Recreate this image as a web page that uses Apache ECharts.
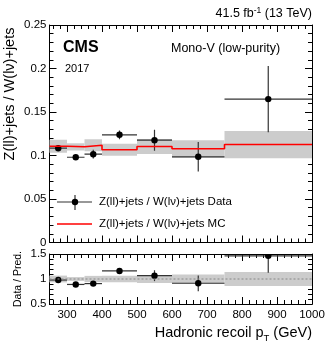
<!DOCTYPE html>
<html>
<head>
<meta charset="utf-8">
<script src="https://cdn.jsdelivr.net/npm/echarts@6/dist/echarts.min.js"></script>
<style>
html,body{margin:0;padding:0;background:#fff;}
#chart{width:332px;height:347px;}
</style>
</head>
<body>
<div id="chart"></div>
<script>
// bins of hadronic recoil (GeV)
var binLo = [250, 300, 350, 400, 500, 600, 750];
var binHi = [300, 350, 400, 500, 600, 750, 1000];
// Z(ll)/W(lv) ratio in data
var dataY   = [0.1084, 0.0980, 0.1015, 0.1238, 0.1176, 0.0985, 0.1648];
var dataErr = [0.0030, 0.0020, 0.0050, 0.0050, 0.0120, 0.0170, 0.0380];
// MC prediction and its uncertainty
var mcY   = [0.1107, 0.1100, 0.1118, 0.1066, 0.1103, 0.1077, 0.1126];
var mcErr = [0.0075, 0.0042, 0.0070, 0.0068, 0.0087, 0.0099, 0.0157];
// tick labels
var xMajor = [300, 400, 500, 600, 700, 800, 900, 1000];
var xMinor = [260, 280, 320, 340, 360, 380, 420, 440, 460, 480, 520, 540, 560, 580,
	620, 640, 660, 680, 720, 740, 760, 780, 820, 840, 860, 880, 920, 940, 960, 980];

var FONT = "'Liberation Sans', Arial, sans-serif";

var chart = echarts.init(document.getElementById('chart'));

// build the series data from the arrays
var upperPoints = [], upperBand = [], mcStep = [];
var ratioPoints = [], ratioBand = [];
for (var i = 0; i < binLo.length; i++) {
	upperPoints.push([binLo[i], binHi[i], dataY[i], dataErr[i]]);
	upperBand.push([binLo[i], binHi[i], mcY[i] - mcErr[i], mcY[i] + mcErr[i]]);
	mcStep.push([binLo[i], mcY[i]]);
	ratioPoints.push([binLo[i], binHi[i], dataY[i] / mcY[i], dataErr[i] / mcY[i]]);
	ratioBand.push([binLo[i], binHi[i], 1 - mcErr[i] / mcY[i], 1 + mcErr[i] / mcY[i]]);
}
mcStep.push([binHi[binHi.length - 1], mcY[mcY.length - 1]]);

function clampY(v, cs) {
	return Math.max(cs.y, Math.min(cs.y + cs.height, v));
}

function renderBand(params, api) {
	var p1 = api.coord([api.value(0), api.value(3)]);
	var p2 = api.coord([api.value(1), api.value(2)]);
	return {
		type: 'rect',
		shape: { x: p1[0], y: p1[1], width: p2[0] - p1[0], height: p2[1] - p1[1] },
		style: { fill: '#cccccc' }
	};
}

function renderPoint(params, api) {
	var cs = params.coordSys;
	var xl = api.value(0), xh = api.value(1), y = api.value(2), e = api.value(3);
	var xc = (xl + xh) / 2;
	var pc = api.coord([xc, y]);
	var pl = api.coord([xl, y]);
	var ph = api.coord([xh, y]);
	var pt = api.coord([xc, y + e]);
	var pb = api.coord([xc, y - e]);
	var lineStyle = { stroke: '#333', lineWidth: 1.2 };
	return {
		type: 'group',
		children: [
			{ type: 'line', shape: { x1: pl[0], y1: pl[1], x2: ph[0], y2: ph[1] }, style: lineStyle },
			{ type: 'line', shape: { x1: pc[0], y1: clampY(pt[1], cs), x2: pc[0], y2: clampY(pb[1], cs) }, style: lineStyle },
			{ type: 'circle', shape: { cx: pc[0], cy: pc[1], r: 3.2 }, style: { fill: '#000' } }
		]
	};
}

// x axes: major + minor ticks, bottom and top of each panel
function makeX(grid, pos, values, len, labels) {
	return {
		type: 'value', gridIndex: grid, position: pos, min: 250, max: 1000,
		axisLine: { show: true, onZero: false, lineStyle: { color: '#000', width: 1 } },
		axisTick: { show: true, inside: true, length: len, customValues: values, lineStyle: { color: '#000' } },
		axisLabel: { show: labels, customValues: xMajor, color: '#000', fontFamily: FONT, fontSize: 11.5, margin: 5,
			formatter: function (v) { return String(v); } },
		splitLine: { show: false }
	};
}

function makeY(grid, pos, min, max, interval, labels) {
	return {
		type: 'value', gridIndex: grid, position: pos, min: min, max: max, interval: interval,
		axisLine: { show: true, onZero: false, lineStyle: { color: '#000', width: 1 } },
		axisTick: { show: true, inside: true, length: 7, lineStyle: { color: '#000' } },
		minorTick: { show: true, splitNumber: 5, length: 4, lineStyle: { color: '#000' } },
		axisLabel: { show: labels, color: '#000', fontFamily: FONT, fontSize: 11.5, margin: 3,
			formatter: function (v) { return String(+v.toFixed(2)); } },
		splitLine: { show: false }
	};
}

var option = {
	animation: false,
	backgroundColor: '#fff',
	grid: [
		{ left: 49.5, right: 20, top: 25, height: 217.5 },
		{ left: 49.5, right: 20, top: 254, height: 50 }
	],
	xAxis: [
		makeX(0, 'bottom', xMajor, 7, false),
		makeX(0, 'top', xMajor, 7, false),
		makeX(0, 'bottom', xMinor, 4, false),
		makeX(0, 'top', xMinor, 4, false),
		makeX(1, 'bottom', xMajor, 7, true),
		makeX(1, 'top', xMajor, 7, false),
		makeX(1, 'bottom', xMinor, 4, false),
		makeX(1, 'top', xMinor, 4, false)
	],
	yAxis: [
		makeY(0, 'left', 0, 0.25, 0.05, true),
		makeY(0, 'right', 0, 0.25, 0.05, false),
		makeY(1, 'left', 0.5, 1.5, 0.5, true),
		makeY(1, 'right', 0.5, 1.5, 0.5, false)
	],
	series: [
		{
			type: 'custom', xAxisIndex: 0, yAxisIndex: 0, renderItem: renderBand,
			data: upperBand, clip: true, silent: true
		},
		{
			type: 'line', xAxisIndex: 0, yAxisIndex: 0, step: 'end', data: mcStep,
			showSymbol: false, lineStyle: { color: '#ff0000', width: 1.6 }, silent: true
		},
		{
			type: 'custom', xAxisIndex: 0, yAxisIndex: 0, renderItem: renderPoint,
			data: upperPoints, clip: true, silent: true
		},
		{
			type: 'custom', xAxisIndex: 4, yAxisIndex: 2, renderItem: renderBand,
			data: ratioBand, clip: true, silent: true
		},
		{
			type: 'line', xAxisIndex: 4, yAxisIndex: 2, data: [[250, 1], [1000, 1]],
			showSymbol: false, lineStyle: { color: '#888', width: 1.2, type: [2, 2] }, silent: true
		},
		{
			type: 'custom', xAxisIndex: 4, yAxisIndex: 2, renderItem: renderPoint,
			data: ratioPoints, clip: true, silent: true
		}
	],
	graphic: [
		{
			type: 'text', x: 312, y: 14,
			style: {
				text: '{a|41.5 fb}{s|-1}{a| (13 TeV)}',
				align: 'right', verticalAlign: 'middle',
				rich: {
					a: { fontFamily: FONT, fontSize: 12.5, fill: '#000', lineHeight: 16 },
					s: { fontFamily: FONT, fontSize: 8.5, fill: '#000', verticalAlign: 'top', lineHeight: 9 }
				}
			}
		},
		{ type: 'text', x: 63, y: 47.5, style: { text: 'CMS', font: 'bold 16px ' + FONT, fill: '#000', verticalAlign: 'middle' } },
		{ type: 'text', x: 65, y: 69, style: { text: '2017', font: '11px ' + FONT, fill: '#000', verticalAlign: 'middle' } },
		{ type: 'text', x: 171, y: 49, style: { text: 'Mono-V (low-purity)', font: '12.5px ' + FONT, fill: '#000', verticalAlign: 'middle' } },
		// legend
		{ type: 'line', shape: { x1: 57, y1: 202, x2: 92, y2: 202 }, style: { stroke: '#333', lineWidth: 1.2 } },
		{ type: 'line', shape: { x1: 75, y1: 195, x2: 75, y2: 210 }, style: { stroke: '#333', lineWidth: 1.2 } },
		{ type: 'circle', shape: { cx: 75, cy: 202, r: 3.2 }, style: { fill: '#000' } },
		{ type: 'text', x: 99, y: 202, style: { text: 'Z(ll)+jets / W(lν)+jets Data', font: '11.5px ' + FONT, fill: '#000', verticalAlign: 'middle' } },
		{ type: 'line', shape: { x1: 57, y1: 224, x2: 92, y2: 224 }, style: { stroke: '#ff0000', lineWidth: 1.6 } },
		{ type: 'text', x: 99, y: 224, style: { text: 'Z(ll)+jets / W(lν)+jets MC', font: '11.5px ' + FONT, fill: '#000', verticalAlign: 'middle' } },
		// axis titles
		{
			type: 'text', x: 10, y: 94, rotation: Math.PI / 2,
			style: { text: 'Z(ll)+jets / W(lν)+jets', font: '14.5px ' + FONT, fill: '#000', align: 'center', verticalAlign: 'middle' }
		},
		{
			type: 'text', x: 18, y: 279, rotation: Math.PI / 2,
			style: { text: 'Data / Pred.', font: '10.5px ' + FONT, fill: '#000', align: 'center', verticalAlign: 'middle' }
		},
		{
			type: 'text', x: 312, y: 333,
			style: {
				text: '{a|Hadronic recoil p}{s|T}{a| (GeV)}',
				align: 'right', verticalAlign: 'middle',
				rich: {
					a: { fontFamily: FONT, fontSize: 14.5, fill: '#000', lineHeight: 20 },
					s: { fontFamily: FONT, fontSize: 9.5, fill: '#000', verticalAlign: 'bottom', lineHeight: 10 }
				}
			}
		}
	]
};

chart.setOption(option);
</script>
</body>
</html>
